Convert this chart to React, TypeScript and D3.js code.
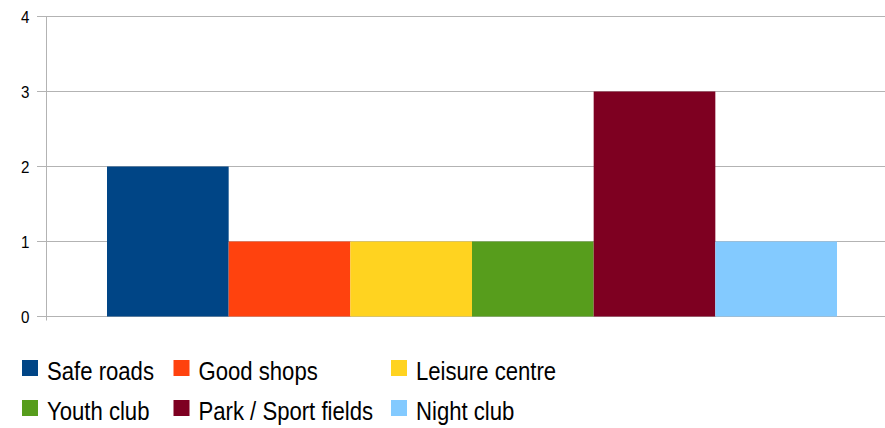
import React from "react";
import * as d3 from "d3";

const categories = ["Safe roads", "Good shops", "Leisure centre", "Youth club", "Park / Sport fields", "Night club"];
const values = [2, 1, 1, 1, 3, 1];
const colors = ["#004586", "#ff420e", "#ffd320", "#579d1c", "#7e0021", "#83caff"];
const yTicks = [0, 1, 2, 3, 4];

export default function App() {
  const W = 885, H = 428;
  const left = 46.5, right = 885, top = 16.5, bottom = 316.5;
  const y = d3.scaleLinear().domain([0, 4]).range([bottom, top]);
  const x = d3.scaleBand<string>().domain(categories).range([107, 837]).padding(0);
  const legendCols = [22, 173.5, 391];
  const legendRows = [360, 400];
  return (
    <svg width={W} height={H} style={{ position: "absolute", left: 0, top: 0 }} fontFamily="'Liberation Sans', Arial, sans-serif">
      {yTicks.map((t) => (
        <g key={t}>
          <line x1={37} x2={right} y1={y(t)} y2={y(t)} stroke="#b3b3b3" strokeWidth={1} />
          <g transform={`translate(29.5,${y(t) + 6.3}) scale(0.92,1)`}>
            <text x={0} y={0} textAnchor="end" fontSize={16.5} fill="#000">{t}</text>
          </g>
        </g>
      ))}
      <line x1={left} x2={left} y1={top} y2={bottom + 4} stroke="#b3b3b3" strokeWidth={1} />
      {categories.map((c, i) => (
        <rect key={c} x={x(c)} y={y(values[i])} width={x.bandwidth()} height={y(0) - y(values[i])} fill={colors[i]} />
      ))}
      {categories.map((c, i) => {
        const cx = legendCols[i % 3];
        const cy = legendRows[Math.floor(i / 3)];
        return (
          <g key={"l" + c}>
            <rect x={cx} y={cy} width={16} height={16} fill={colors[i]} />
            <g transform={`translate(${cx + 25},${cy + 19.5}) scale(0.885,1)`}>
              <text x={0} y={0} fontSize={25} fill="#000">{c}</text>
            </g>
          </g>
        );
      })}
    </svg>
  );
}
